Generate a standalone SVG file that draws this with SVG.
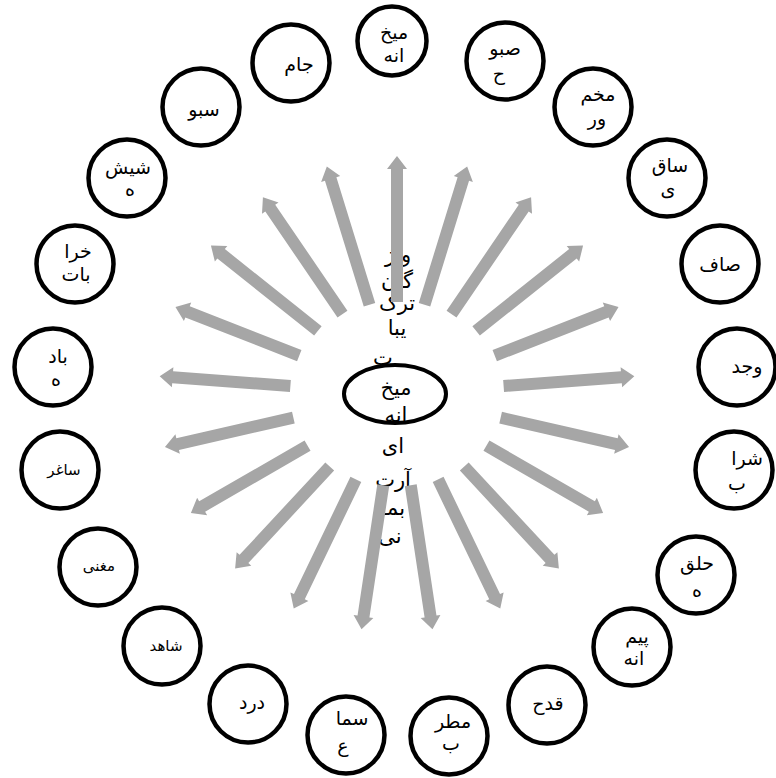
<svg xmlns="http://www.w3.org/2000/svg" width="776" height="778" viewBox="0 0 776 778">
<style>
.n{fill:#fff;stroke:#000;stroke-width:4.5}
.t{font-family:"DejaVu Sans","Noto Sans",sans-serif;font-size:19px;fill:#000;text-anchor:middle}
.s{font-size:15px}
.c{font-size:21px}
.a{fill:#a6a6a6}
</style>
<rect width="776" height="778" fill="#fff"/>
<g id="center">
<text class="t c" x="398" y="262">واژ</text>
<text class="t c" x="397" y="288">گان</text>
<text class="t c" x="397" y="310">ترک</text>
<text class="t c" x="397" y="335">یبا</text>
<text class="t c" x="383" y="365">ت</text>
<text class="t c" x="396" y="395">میخ</text>
<text class="t c" x="396" y="422">انه</text>
<text class="t c" x="393" y="453">ای</text>
<text class="t c" x="393" y="487">آرت</text>
<text class="t c" x="393" y="515">بمـ</text>
<text class="t c" x="390" y="543">نی</text>
<ellipse cx="395" cy="394" rx="51" ry="29" fill="none" stroke="#000" stroke-width="4"/>
</g>
<g id="connectors" class="a">
<path transform="translate(397,394) rotate(-90)" d="M92,-6H225V-10L238,0L225,10V6H92Z"/>
<path transform="translate(397,394) rotate(-72.857)" d="M93.3,-6H225V-10L238,0L225,10V6H93.3Z"/>
<path transform="translate(397,394) rotate(-55.714)" d="M96.8,-6H225V-10L238,0L225,10V6H96.8Z"/>
<path transform="translate(397,394) rotate(-38.571)" d="M101.2,-6H225V-10L238,0L225,10V6H101.2Z"/>
<path transform="translate(397,394) rotate(-21.429)" d="M105,-6H225V-10L238,0L225,10V6H105Z"/>
<path transform="translate(397,394) rotate(-4.286)" d="M106.9,-6H225V-10L238,0L225,10V6H106.9Z"/>
<path transform="translate(397,394) rotate(12.857)" d="M106.3,-6H225V-10L238,0L225,10V6H106.3Z"/>
<path transform="translate(397,394) rotate(30)" d="M103.3,-6H225V-10L238,0L225,10V6H103.3Z"/>
<path transform="translate(397,394) rotate(47.143)" d="M98.9,-6H225V-10L238,0L225,10V6H98.9Z"/>
<path transform="translate(397,394) rotate(64.286)" d="M94.8,-6H225V-10L238,0L225,10V6H94.8Z"/>
<path transform="translate(397,394) rotate(81.429)" d="M92.3,-6H225V-10L238,0L225,10V6H92.3Z"/>
<path transform="translate(397,394) rotate(98.571)" d="M92.3,-6H225V-10L238,0L225,10V6H92.3Z"/>
<path transform="translate(397,394) rotate(115.714)" d="M94.8,-6H225V-10L238,0L225,10V6H94.8Z"/>
<path transform="translate(397,394) rotate(132.857)" d="M98.9,-6H225V-10L238,0L225,10V6H98.9Z"/>
<path transform="translate(397,394) rotate(150)" d="M103.3,-6H225V-10L238,0L225,10V6H103.3Z"/>
<path transform="translate(397,394) rotate(167.143)" d="M106.3,-6H225V-10L238,0L225,10V6H106.3Z"/>
<path transform="translate(397,394) rotate(184.286)" d="M106.9,-6H225V-10L238,0L225,10V6H106.9Z"/>
<path transform="translate(397,394) rotate(201.429)" d="M105,-6H225V-10L238,0L225,10V6H105Z"/>
<path transform="translate(397,394) rotate(218.571)" d="M101.2,-6H225V-10L238,0L225,10V6H101.2Z"/>
<path transform="translate(397,394) rotate(235.714)" d="M96.8,-6H225V-10L238,0L225,10V6H96.8Z"/>
<path transform="translate(397,394) rotate(252.857)" d="M93.3,-6H225V-10L238,0L225,10V6H93.3Z"/>
</g>
<g id="n-meykhaneh"><circle class="n" cx="392" cy="41" r="34.5"/><text class="t" x="394" y="39">میخ</text><text class="t" x="394" y="62">انه</text></g>
<g id="n-sabuh"><circle class="n" cx="505" cy="61" r="38.5"/><text class="t" x="505" y="55">صبو</text><text class="t" x="499" y="80">ح</text></g>
<g id="n-makhmur"><circle class="n" cx="593" cy="107" r="38.5"/><text class="t" x="598" y="101">مخم</text><text class="t" x="597" y="125">ور</text></g>
<g id="n-saghi"><circle class="n" cx="667" cy="178" r="38.5"/><text class="t" x="670" y="172">ساق</text><text class="t" x="668" y="196">ی</text></g>
<g id="n-saf"><circle class="n" cx="720" cy="264" r="38.5"/><text class="t" x="720" y="271">صاف</text></g>
<g id="n-vajd"><circle class="n" cx="737" cy="367" r="38.5"/><text class="t" x="747" y="373">وجد</text></g>
<g id="n-sharab"><circle class="n" cx="734" cy="470" r="38.5"/><text class="t" x="747" y="465">شرا</text><text class="t" x="737" y="490">ب</text></g>
<g id="n-halgheh"><circle class="n" cx="696" cy="575" r="38.5"/><text class="t" x="697" y="570">حلق</text><text class="t" x="697" y="597">ه</text></g>
<g id="n-peymaneh"><circle class="n" cx="632" cy="647" r="38.5"/><text class="t" x="637" y="643">پیم</text><text class="t" x="634" y="665">انه</text></g>
<g id="n-ghadah"><circle class="n" cx="547" cy="705" r="38.5"/><text class="t" x="548" y="710">قدح</text></g>
<g id="n-motreb"><circle class="n" cx="449" cy="736" r="38.5"/><text class="t" x="453" y="728">مطر</text><text class="t" x="451" y="750">ب</text></g>
<g id="n-sama"><circle class="n" cx="346" cy="735" r="38.5"/><text class="t" x="352" y="725">سما</text><text class="t" x="343" y="752">ع</text></g>
<g id="n-dord"><circle class="n" cx="248" cy="704" r="38.5"/><text class="t" x="252" y="709">درد</text></g>
<g id="n-shahed"><circle class="n" cx="162" cy="646" r="38.5"/><text class="t s" x="166" y="651">شاهد</text></g>
<g id="n-moghanni"><circle class="n" cx="98" cy="567" r="38.5"/><text class="t s" x="99" y="571">مغنی</text></g>
<g id="n-saghar"><circle class="n" cx="60" cy="470" r="38.5"/><text class="t s" x="64" y="475">ساغر</text></g>
<g id="n-badeh"><circle class="n" cx="53" cy="367" r="38.5"/><text class="t" x="58" y="363">باد</text><text class="t" x="56" y="386">ه</text></g>
<g id="n-kharabat"><circle class="n" cx="75" cy="264" r="38.5"/><text class="t" x="78" y="258">خرا</text><text class="t" x="76" y="281">بات</text></g>
<g id="n-shisheh"><circle class="n" cx="127" cy="178" r="38.5"/><text class="t" x="128" y="174">شیش</text><text class="t" x="130" y="196">ه</text></g>
<g id="n-sabu"><circle class="n" cx="201" cy="107" r="38.5"/><text class="t" x="204" y="116">سبو</text></g>
<g id="n-jam"><circle class="n" cx="291" cy="63" r="38.5"/><text class="t" x="299" y="71">جام</text></g>
</svg>
